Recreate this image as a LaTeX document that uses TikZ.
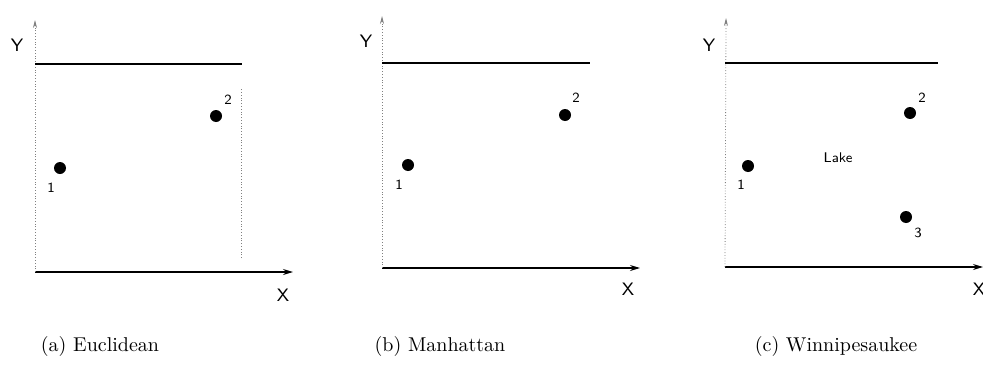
\documentclass[tikz,border=0pt]{standalone}
\usetikzlibrary{arrows.meta,positioning}

\begin{document}
\begin{tikzpicture}[
    x=0.5pt, y=-0.5pt,
    site/.style={circle, fill=black, inner sep=0pt, minimum size=6pt},
    lbl/.style={font=\sffamily\scriptsize, inner sep=1pt},
    axlbl/.style={font=\sffamily\small, inner sep=0pt},
    subcap/.style={font=\normalsize, inner sep=0pt},
    axis/.style={-{Stealth[length=5pt,width=3pt]}, semithick},
    yaxis/.style={-{Stealth[length=4pt,width=2pt]}, densely dotted, gray},
    bound/.style={semithick},
  ]
    \useasboundingbox (0,0) rectangle (983,380);

    % (a) Euclidean
    \coordinate (ao) at (35,272);
    \coordinate (ay) at (35,20);
    \coordinate (ax) at (293,272);
    \coordinate (atl) at (35,64);
    \coordinate (atr) at (242,64);
    \coordinate (arb) at (241,258);
    \coordinate (art) at (241,88);
    \draw[axis] (ao) -- (ax);
    \draw[yaxis] (ao) -- (ay);
    \draw[bound] (atl) -- (atr);
    \draw[densely dotted, gray] (arb) -- (art);
    \node[axlbl] (aY) at (17,45) {Y};
    \node[axlbl] (aX) at (283,295) {X};
    \node[site] (a1) at (60,168) {};
    \node[site] (a2) at (216,116) {};
    \node[lbl] at (51,188) {1};
    \node[lbl] at (228,100) {2};
    \node[subcap] (acap) at (100,346) {(a) Euclidean};

    % (b) Manhattan
    \coordinate (bo) at (382,268);
    \coordinate (by) at (382,16);
    \coordinate (bx) at (640,268);
    \coordinate (btl) at (382,63);
    \coordinate (btr) at (590,63);
    \draw[axis] (bo) -- (bx);
    \draw[yaxis] (bo) -- (by);
    \draw[bound] (btl) -- (btr);
    \node[axlbl] (bY) at (366,41) {Y};
    \node[axlbl] (bX) at (628,289) {X};
    \node[site] (b1) at (408,165) {};
    \node[site] (b2) at (565,115) {};
    \node[lbl] at (399,185) {1};
    \node[lbl] at (576,98) {2};
    \node[subcap] (bcap) at (440,346) {(b) Manhattan};

    % (c) Winnipesaukee
    \coordinate (co) at (725,267);
    \coordinate (cy) at (726,18);
    \coordinate (cx) at (983,267);
    \coordinate (ctl) at (725,63);
    \coordinate (ctr) at (938,63);
    \draw[axis] (co) -- (cx);
    \draw[yaxis] (co) -- (cy);
    \draw[bound] (ctl) -- (ctr);
    \node[axlbl] (cY) at (709,45) {Y};
    \node[axlbl] (cX) at (979,289) {X};
    \node[site] (c1) at (748,166) {};
    \node[site] (c2) at (910,113) {};
    \node[site] (c3) at (906,217) {};
    \node[lbl] at (741,185) {1};
    \node[lbl] at (922,98) {2};
    \node[lbl] at (918,233) {3};
    \node[font=\sffamily\scriptsize] (lake) at (838,158) {Lake};
    \node[subcap] (ccap) at (836,346) {(c) Winnipesaukee};
\end{tikzpicture}
\end{document}
